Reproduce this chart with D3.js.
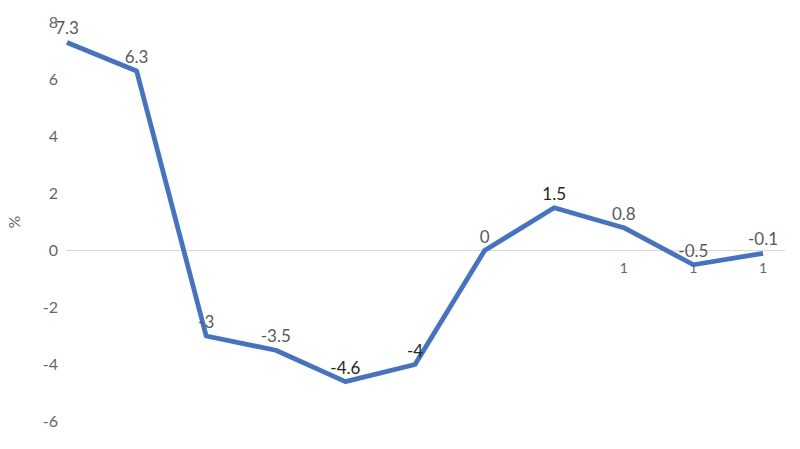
<!DOCTYPE html>
<html>
<head>
<meta charset="utf-8">
<script src="https://cdn.jsdelivr.net/npm/d3@7"></script>
<style>
  body { margin: 0; background: #fff; }
  text { font-family: Lato, "Open Sans", sans-serif; }
</style>
</head>
<body>
<div id="chart"></div>
<script>
// chart data
const categories = ["", "", "", "", "", "", "", "", "1", "1", "1"];
const values = [7.3, 6.3, -3, -3.5, -4.6, -4, 0, 1.5, 0.8, -0.5, -0.1];
const yTicks = [-6, -4, -2, 0, 2, 4, 6, 8];

const width = 800, height = 449;

const svg = d3.select("#chart").append("svg")
  .attr("width", width)
  .attr("height", height);

const idx = values.map((d, i) => i);

const x = d3.scalePoint()
  .domain(idx)
  .range([67, 763]);

const y = d3.scaleLinear()
  .domain([-6, 8])
  .range([421.5, 22.5]);

// y tick labels
svg.append("g")
  .selectAll("text")
  .data(yTicks)
  .enter()
  .append("text")
  .attr("x", 58)
  .attr("y", d => y(d))
  .attr("dy", "0.35em")
  .attr("text-anchor", "end")
  .attr("fill", "#666")
  .style("font-size", "16px")
  .text(d => d);

// zero line
svg.append("line")
  .attr("x1", 66)
  .attr("x2", 785)
  .attr("y1", y(0))
  .attr("y2", y(0))
  .attr("stroke", "#d9d9d9")
  .attr("stroke-width", 1);

// axis title
svg.append("text")
  .attr("transform", `translate(20,${y(1)}) rotate(-90)`)
  .attr("text-anchor", "middle")
  .attr("fill", "#666")
  .style("font-size", "16px")
  .text("%");

// category labels
svg.append("g")
  .selectAll("text")
  .data(idx)
  .enter()
  .append("text")
  .attr("x", d => x(d))
  .attr("y", y(0) + 22)
  .attr("text-anchor", "middle")
  .attr("fill", "#666")
  .style("font-size", "14px")
  .text(d => categories[d]);

// the line
svg.append("path")
  .datum(idx)
  .attr("fill", "none")
  .attr("stroke", "#4472C4")
  .attr("stroke-width", 4.8)
  .attr("stroke-linejoin", "round")
  .attr("d", d3.line()
    .x(d => x(d))
    .y(d => y(values[d])));

// data labels (a few are drawn darker in the original)
const dark = new Set([4, 5, 7]);
svg.append("g")
  .selectAll("text")
  .data(idx)
  .enter()
  .append("text")
  .attr("x", d => x(d))
  .attr("y", d => y(values[d]) - 8)
  .attr("text-anchor", "middle")
  .attr("fill", d => dark.has(d) ? "#262626" : "#595959")
  .style("font-size", "17px")
  .text(d => values[d]);
</script>
</body>
</html>
